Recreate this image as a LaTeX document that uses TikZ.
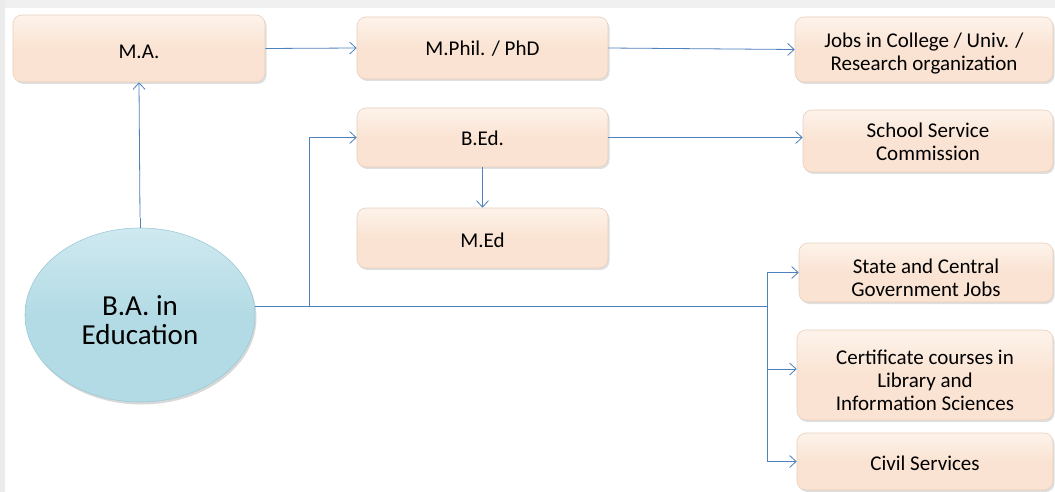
\documentclass[tikz,border=0pt]{standalone}
\usepackage{fontspec}
\setmainfont{Carlito}
\usetikzlibrary{arrows.meta,shapes.geometric,shadows,calc}
\definecolor{peach}{HTML}{FAE3D2}
\definecolor{peachtop}{HTML}{FDF3EB}
\definecolor{peachedge}{HTML}{E8CFBC}
\definecolor{lblue}{HTML}{B3DBE5}
\definecolor{lbluetop}{HTML}{CFE9F0}
\definecolor{lbluedge}{HTML}{9CCAD6}
\definecolor{conn}{HTML}{4F81BD}
\tikzset{
  box/.style={rectangle, rounded corners=9pt, top color=peachtop, bottom color=peach,
    middle color=peach, draw=peachedge, line width=0.6pt,
    drop shadow={shadow xshift=1.5pt, shadow yshift=-2pt, opacity=0.25}, inner sep=0pt},
  oval/.style={ellipse, top color=lbluetop, bottom color=lblue, middle color=lblue,
    draw=lbluedge, line width=0.6pt,
    drop shadow={shadow xshift=1.5pt, shadow yshift=-2.5pt, opacity=0.3}, inner sep=0pt},
  txt/.style={align=center, font=\fontsize{21}{23}\selectfont, inner sep=0pt, text=black},
  bigtxt/.style={align=center, font=\fontsize{29}{29.5}\selectfont, inner sep=0pt, text=black},
  link/.style={draw=conn, line width=0.8pt},
  arr/.style={link, -{Straight Barb[length=6.5pt,width=12pt,line width=0.8pt]}}
}
\begin{document}
\begin{tikzpicture}[x=1pt,y=-1pt]
\useasboundingbox (0,0) rectangle (1055,492);
\fill[white] (0,0) rectangle (1055,492);
\fill[black!6] (0,0) rectangle (1055,8);
\fill[black!8] (0,0) rectangle (5,492);
% boxes
\node[box, minimum width=252pt, minimum height=67pt,
  label={[txt, yshift=-3pt]center:M.A.}] (ma) at (139,48.5) {};
\node[box, minimum width=251pt, minimum height=62pt,
  label={[txt, yshift=-1pt]center:M.Phil. / PhD}] (mphil) at (482.5,48) {};
\node[box, minimum width=258pt, minimum height=65pt,
  label={[txt, yshift=-4pt]center:Jobs in College / Univ. /\\Research organization}] (jobs) at (924,49.5) {};
\node[box, minimum width=251pt, minimum height=59pt,
  label={[txt, yshift=-1pt]center:B.Ed.}] (bed) at (482.5,137.5) {};
\node[box, minimum width=250pt, minimum height=62pt,
  label={[txt, yshift=-1pt]center:School Service\\Commission}] (ssc) at (928,141) {};
\node[box, minimum width=251pt, minimum height=60pt,
  label={[txt, yshift=-2pt]center:M.Ed}] (med) at (482.5,238) {};
\node[box, minimum width=254pt, minimum height=59pt,
  label={[txt, yshift=-5.5pt]center:State and Central\\Government Jobs}] (state) at (926,272.5) {};
\node[box, minimum width=256pt, minimum height=90pt,
  label={[txt, yshift=-5pt]center:Certificate courses in\\Library and\\Information Sciences}] (cert) at (925,375) {};
\node[box, minimum width=256pt, minimum height=57pt,
  label={[txt, yshift=-2pt]center:Civil Services}] (civil) at (925,461.5) {};
\node[oval, minimum width=230pt, minimum height=174pt,
  label={[bigtxt, yshift=-5pt]center:B.A. in\\Education}] (ba) at (140,315) {};
% connectors
\coordinate (baTop) at ($(ba.north)+(0,-10)$);
\draw[link] (ba.north) -- (baTop);
\draw[arr] (baTop) -- (ma.south);
\draw[arr] (ma.east) -- (mphil.west);
\draw[arr] (mphil.east) -- (jobs.west);
\draw[arr] (bed.east) -- (bed.east -| ssc.west);
\draw[arr] (bed.south) -- (med.north);
\coordinate (split1) at (309,306);
\coordinate (split2) at (767,306);
\coordinate (certin) at ($(cert.west)+(0,-6)$);
\draw[link] (ba.east |- split1) -- (split1);
\draw[arr] (split1) |- (bed.west);
\draw[link] (split1) -- (split2);
\draw[arr] (split2) |- (state.west);
\draw[arr] (split2) |- (certin);
\draw[arr] (split2) |- (civil.west);
\end{tikzpicture}
\end{document}
